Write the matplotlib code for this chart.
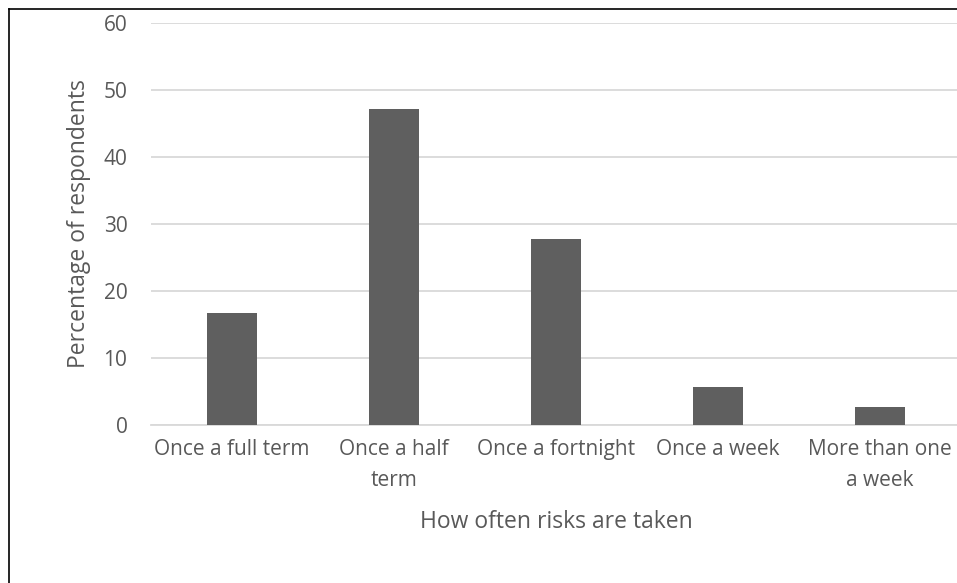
import matplotlib.pyplot as plt
from matplotlib.lines import Line2D
import numpy as np

# %% Data
categories = ["Once a full term", "Once a half\nterm", "Once a fortnight",
              "Once a week", "More than one\na week"]
percentages = [16.7, 47.2, 27.8, 5.6, 2.7]
y_ticks = [0, 10, 20, 30, 40, 50, 60]

# %% Plot
plt.rcParams['font.family'] = ['Open Sans', 'DejaVu Sans']
text_col = '#595959'
W, H = 957, 583

fig = plt.figure(figsize=(W / 100, H / 100), dpi=100)
ax = fig.add_axes([151 / W, 1 - 424.7 / H, (961 - 151) / W, (424.7 - 23) / H])

x = np.arange(len(categories))
ax.bar(x, percentages, width=0.313, color='#5f5f5f', zorder=3)

ax.set_xlim(-0.5, len(categories) - 0.5)
ax.set_ylim(0, 60)
ax.set_yticks(y_ticks)
ax.set_xticks(x)
ax.set_xticklabels(categories, linespacing=1.65)
ax.tick_params(axis='both', length=0, labelsize=15, colors=text_col)
ax.tick_params(axis='y', pad=17)
ax.tick_params(axis='x', pad=10)
ax.yaxis.grid(True, color='#d9d9d9', linewidth=1.3)
for s in ax.spines.values():
    s.set_visible(False)
ax.spines['bottom'].set_visible(True)
ax.spines['bottom'].set_color('#d9d9d9')
ax.spines['bottom'].set_linewidth(1.3)

ax.set_ylabel('Percentage of respondents', fontsize=16.5, color=text_col, labelpad=9)
fig.text(556 / W, 1 - 522 / H, 'How often risks are taken', fontsize=16.5,
         color=text_col, ha='center', va='center')

# chart frame (left and top edges only visible)
fig.add_artist(Line2D([8.5 / W, 8.5 / W], [0, 1 - 8.5 / H], color='black', lw=1.2))
fig.add_artist(Line2D([8.5 / W, 1], [1 - 8.5 / H, 1 - 8.5 / H], color='black', lw=1.2))

fig.savefig('out.png', dpi=100)
